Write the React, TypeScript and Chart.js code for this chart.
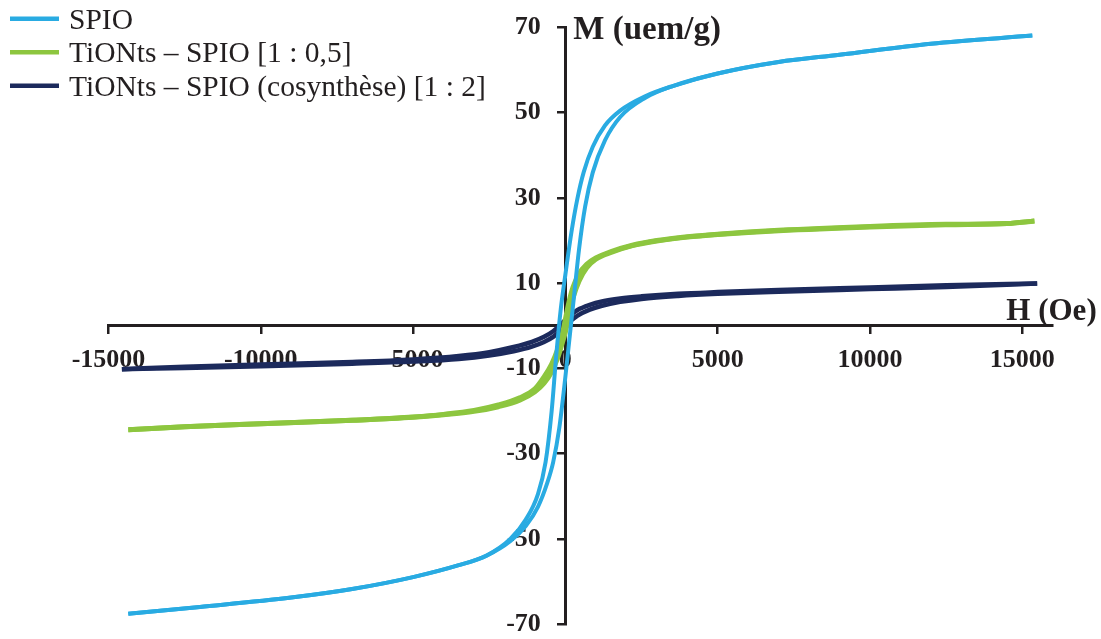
import React, { useEffect, useRef } from "react";
import { Chart, registerables } from "chart.js";

Chart.register(...registerables);

// ---- Data ----
const SERIES_LABELS = [
  "SPIO",
  "TiONts – SPIO [1 : 0,5]",
  "TiONts – SPIO (cosynthèse) [1 : 2]",
];

const X_TICKS = [-15000, -10000, -5000, 0, 5000, 10000, 15000];
const Y_TICKS = [70, 50, 30, 10, -10, -30, -50, -70];
const X_MIN = -15000;
const X_MAX = 16000;
const Y_MIN = -70;
const Y_MAX = 70;

// SPIO loop
const SPIO_H_DESC = [15330, 12000, 9000, 7000, 5000, 3500, 2600, 1800, 1300, 900, 600, 400, 200, 0, -150, -300, -450, -650, -900, -1300, -1800, -2600, -3500, -5000, -7000, -9000, -12000, -14350];
const SPIO_M_DESC = [68.1, 66.2, 63.6, 61.9, 59.2, 56.2, 53.8, 50.5, 47.0, 42.0, 36.0, 30.0, 22.0, 12.0, 4.0, -7.0, -20.0, -32.0, -39.5, -45.5, -50.0, -54.0, -56.2, -59.0, -61.8, -63.8, -66.0, -67.6];
const SPIO_H_ASC = [-14350, -12000, -9000, -7000, -5000, -3500, -2600, -1800, -1300, -900, -600, -400, -200, 0, 150, 300, 450, 650, 900, 1300, 1800, 2600, 3500, 5000, 7000, 9000, 12000, 15330];
const SPIO_M_ASC = [-67.6, -66.0, -63.8, -61.8, -59.0, -56.2, -54.0, -50.5, -47.0, -42.5, -37.0, -32.0, -24.0, -12.0, -2.0, 8.0, 18.0, 28.0, 36.0, 43.5, 49.0, 53.4, 56.2, 59.2, 61.9, 63.6, 66.2, 68.1];

// TiONts – SPIO [1 : 0,5] loop
const GREEN_H_DESC = [15400, 14500, 12500, 10000, 7000, 5000, 4000, 3000, 2200, 1500, 1000, 700, 450, 250, 100, 0, -100, -250, -450, -700, -1000, -1500, -2200, -3000, -4000, -5000, -7000, -10000, -12500, -14350];
const GREEN_M_DESC = [24.6, 24.0, 23.8, 23.3, 22.4, 21.5, 20.9, 20.0, 18.9, 17.4, 15.9, 14.4, 12.2, 9.0, 5.0, 1.5, -2.0, -5.5, -9.0, -12.0, -14.8, -16.9, -18.6, -19.9, -20.8, -21.4, -22.2, -23.0, -23.7, -24.4];
const GREEN_H_ASC = [-14350, -12500, -10000, -7000, -5000, -4000, -3000, -2200, -1500, -1000, -700, -450, -250, -100, 0, 100, 250, 450, 700, 1000, 1500, 2200, 3000, 4000, 5000, 7000, 10000, 12500, 14500, 15400];
const GREEN_M_ASC = [-24.4, -23.7, -23.0, -22.2, -21.5, -20.9, -20.1, -19.0, -17.5, -15.5, -13.5, -10.8, -7.5, -4.0, -1.5, 2.0, 6.5, 10.5, 13.6, 15.6, 17.2, 18.8, 19.9, 20.8, 21.4, 22.3, 23.2, 23.7, 24.0, 24.6];

// TiONts – SPIO (cosynthèse) [1 : 2] loop
const NAVY_H_DESC = [15490, 12500, 10000, 7000, 5000, 3700, 2500, 1800, 1200, 800, 400, 150, 0, -200, -400, -700, -1100, -1700, -2500, -3500, -5000, -7000, -10000, -12500, -14560];
const NAVY_M_DESC = [9.9, 9.5, 9.0, 8.4, 7.9, 7.5, 6.9, 6.4, 5.7, 4.9, 3.7, 2.4, 1.4, 0.0, -1.3, -2.6, -3.8, -5.0, -6.2, -7.1, -7.9, -8.5, -9.1, -9.6, -10.2];
const NAVY_H_ASC = [-14560, -12500, -10000, -7000, -5000, -3500, -2500, -1700, -1100, -700, -400, -200, 0, 150, 400, 800, 1200, 1800, 2500, 3700, 5000, 7000, 10000, 12500, 15490];
const NAVY_M_ASC = [-10.2, -9.9, -9.5, -8.9, -8.4, -7.8, -7.0, -6.0, -4.9, -3.8, -2.6, -1.4, 0.0, 1.0, 2.4, 3.8, 4.7, 5.6, 6.3, 7.0, 7.5, 8.0, 8.6, 9.1, 9.9];

const X_TITLE = "H (Oe)";
const Y_TITLE = "M (uem/g)";

// ---- Styles ----
const TEXT = "#231F20";
const COLORS = ["#29ABE2", "#8DC63F", "#1C2A5C"];
const WIDTHS = [4, 5, 4.5];
const SERIF = '"Liberation Serif", "Times New Roman", serif';

const pts = (H: number[], M: number[]) => H.map((h, i) => ({ x: h, y: M[i] }));

const BRANCHES: [number, number[], number[]][] = [
  [0, SPIO_H_DESC, SPIO_M_DESC],
  [0, SPIO_H_ASC, SPIO_M_ASC],
  [1, GREEN_H_DESC, GREEN_M_DESC],
  [1, GREEN_H_ASC, GREEN_M_ASC],
  [2, NAVY_H_DESC, NAVY_M_DESC],
  [2, NAVY_H_ASC, NAVY_M_ASC],
];

const overlayPlugin = {
  id: "overlay",
  beforeDatasetsDraw(chart: any) {
    const ctx = chart.ctx;
    const xs = chart.scales.x;
    const ys = chart.scales.y;
    const x0 = xs.getPixelForValue(0);
    ctx.save();
    ctx.font = `bold 26px ${SERIF}`;
    ctx.fillStyle = TEXT;
    ctx.textAlign = "right";
    ctx.textBaseline = "middle";
    ys.ticks.forEach((t: any) => {
      ctx.fillText(String(t.value), x0 - 24.5, ys.getPixelForValue(t.value));
    });
    ctx.restore();
  },
  afterDraw(chart: any) {
    const ctx = chart.ctx;
    const xs = chart.scales.x;
    const ys = chart.scales.y;
    const x0 = xs.getPixelForValue(0);
    const y0 = ys.getPixelForValue(0);
    ctx.save();
    // axis titles
    ctx.fillStyle = TEXT;
    ctx.textBaseline = "alphabetic";
    ctx.textAlign = "left";
    ctx.font = `bold 33px ${SERIF}`;
    ctx.fillText(Y_TITLE, x0 + 8, ys.getPixelForValue(Y_MAX) + 11);
    ctx.font = `bold 31px ${SERIF}`;
    ctx.textAlign = "right";
    ctx.fillText(X_TITLE, xs.right + 44, y0 - 5.5);
    // legend
    ctx.font = `29.5px ${SERIF}`;
    ctx.textAlign = "left";
    SERIES_LABELS.forEach((label, i) => {
      const cy = 18.7 + i * 33.5;
      ctx.strokeStyle = COLORS[i];
      ctx.lineWidth = 4.5;
      ctx.beginPath();
      ctx.moveTo(10, cy);
      ctx.lineTo(59, cy);
      ctx.stroke();
      ctx.fillStyle = TEXT;
      ctx.fillText(label, 69, cy + 9.8);
    });
    ctx.restore();
  },
};

export default function App() {
  const ref = useRef<HTMLCanvasElement>(null);
  useEffect(() => {
    const canvas = ref.current;
    if (!canvas) return;
    const datasets = BRANCHES.map(([s, H, M]) => ({
      label: SERIES_LABELS[s],
      data: pts(H, M),
      showLine: true,
      borderColor: COLORS[s],
      backgroundColor: COLORS[s],
      borderWidth: WIDTHS[s],
      pointRadius: 0,
      cubicInterpolationMode: "monotone" as const,
      fill: false,
    }));
    const chart = new Chart(canvas, {
      type: "scatter",
      data: { datasets },
      options: {
        responsive: false,
        animation: false,
        devicePixelRatio: 1,
        events: [],
        layout: { padding: { left: 108.5, right: 48.3, top: 27.5, bottom: 15 } },
        plugins: { legend: { display: false }, tooltip: { enabled: false } },
        scales: {
          x: {
            type: "linear",
            min: X_MIN,
            max: X_MAX,
            position: { y: 0 } as any,
            afterBuildTicks: (axis: any) => {
              axis.ticks = X_TICKS.map((v) => ({ value: v }));
            },
            grid: {
              display: true,
              drawOnChartArea: false,
              drawTicks: true,
              tickLength: 7,
              color: TEXT,
              lineWidth: 2.5,
            },
            border: { display: true, color: TEXT, width: 3 },
            ticks: {
              font: { family: SERIF, size: 26, weight: "bold" },
              color: TEXT,
              padding: 12,
              maxRotation: 0,
              autoSkip: false,
              callback: (v: any) => String(v),
            },
          },
          y: {
            type: "linear",
            min: Y_MIN,
            max: Y_MAX,
            position: { x: 0 } as any,
            afterBuildTicks: (axis: any) => {
              axis.ticks = Y_TICKS.map((v) => ({ value: v }));
            },
            grid: {
              display: true,
              drawOnChartArea: false,
              drawTicks: true,
              tickLength: 7,
              color: TEXT,
              lineWidth: 2.5,
            },
            border: { display: true, color: TEXT, width: 3 },
            ticks: { display: false },
          },
        },
      },
      plugins: [overlayPlugin],
    });
    return () => chart.destroy();
  }, []);
  return (
    <div style={{ position: "absolute", left: 0, top: 0, width: 1101, height: 639, background: "#fff" }}>
      <canvas ref={ref} width={1101} height={639} style={{ display: "block" }} />
    </div>
  );
}
